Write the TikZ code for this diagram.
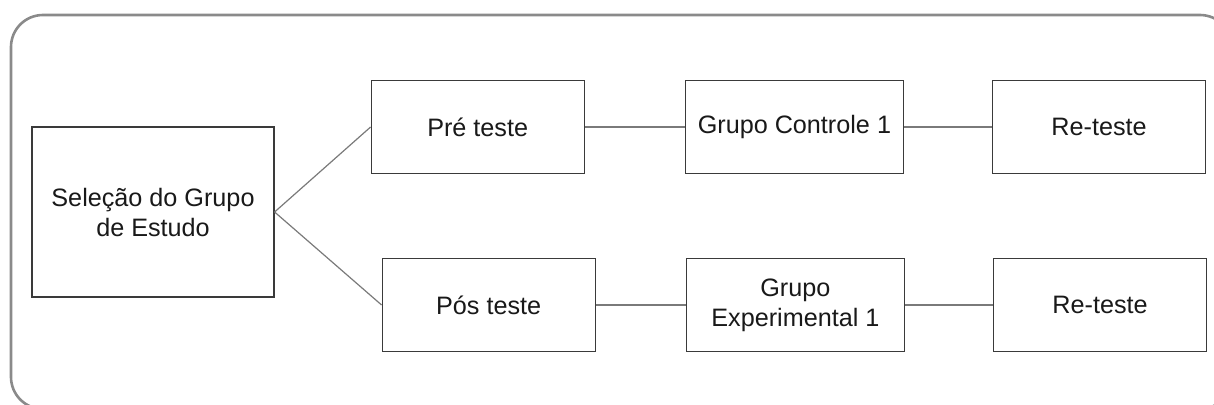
\documentclass[tikz,border=0pt]{standalone}
\usepackage{fontspec}
\setmainfont{Liberation Sans}
\usepackage{tikz}
\usetikzlibrary{positioning}
\definecolor{framegray}{HTML}{8A8A8A}
\definecolor{linegray}{HTML}{7A7A7A}
\definecolor{boxline}{HTML}{3A3A3A}

\begin{document}
\begin{tikzpicture}[
  x=0.5pt, y=-0.5pt,
  box/.style={rectangle,draw=boxline,line width=0.6pt,fill=white,
              minimum width=106.5pt,minimum height=46.5pt,inner sep=0pt,
              font=\fontsize{12.6}{15}\selectfont,align=center,text=black!90},
  wide/.style={box,minimum width=109pt},
  link/.style={draw=linegray,line width=0.6pt},
]

\useasboundingbox (0,0) rectangle (1214,405);
\draw[framegray,line width=1.3pt,rounded corners=16pt] (11,15) rectangle (1232,409);

\node[box,minimum width=121pt,minimum height=85pt] (sel) at (153,212) {Seleção do Grupo\\de Estudo};
\node[box,above right=42.5pt and 48pt of sel.east,anchor=west] (pre) {Pré teste};
\node[box,below right=46.5pt and 53.5pt of sel.east,anchor=west] (pos) {Pós teste};
\node[wide,right=50pt of pre] (gc1) {Grupo Controle 1};
\node[wide,right=45pt of pos] (ge1) {Grupo\\Experimental 1};
\node[box,right=44pt of gc1] (rt1) {Re-teste};
\node[box,right=44pt of ge1] (rt2) {Re-teste};

\draw[link] (sel.east) -- (pre.west);
\draw[link] (sel.east) -- (pos.west);
\draw[link] (pre) -- (gc1);
\draw[link] (gc1) -- (rt1);
\draw[link] (pos) -- (ge1);
\draw[link] (ge1) -- (rt2);

\end{tikzpicture}
\end{document}
